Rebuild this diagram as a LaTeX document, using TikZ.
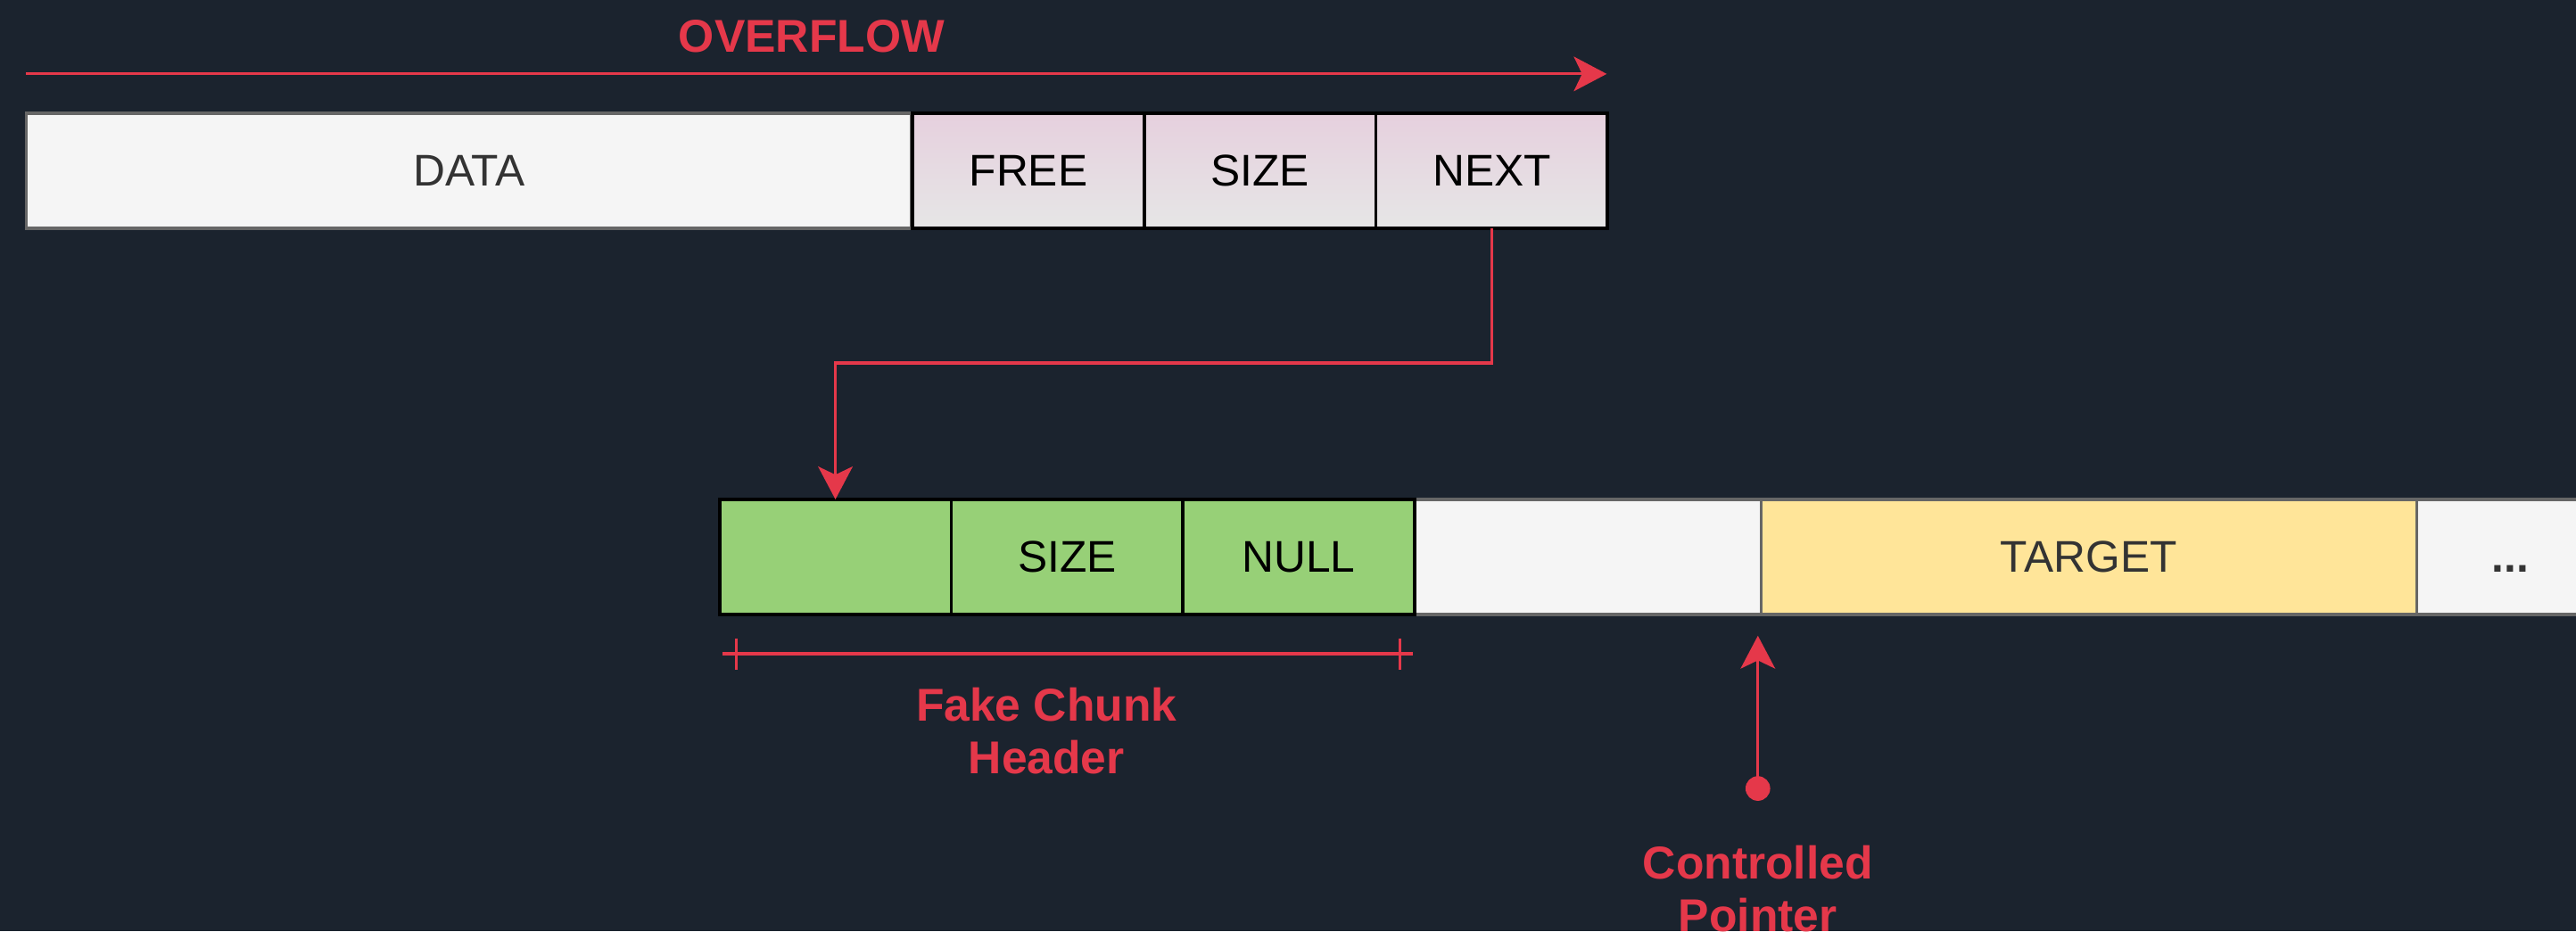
\documentclass[tikz,border=0pt]{standalone}
\usepackage{fontspec}
\setmainfont{Liberation Sans}
\usetikzlibrary{arrows.meta}

\definecolor{bg}{HTML}{1B232E}
\definecolor{accent}{HTML}{E5384A}
\definecolor{cellgray}{HTML}{F5F5F5}
\definecolor{edgegray}{HTML}{666666}
\definecolor{txtgray}{HTML}{333333}
\definecolor{pinktop}{HTML}{E6D0DE}
\definecolor{pinkbot}{HTML}{E6E6E6}
\definecolor{chunkgreen}{HTML}{97D077}
\definecolor{targetfill}{HTML}{FFE599}

\tikzset{
  txt/.style={font=\fontsize{13.5}{16.2}\selectfont},
  boldtxt/.style={font=\fontsize{14}{16.2}\selectfont\bfseries, text=accent},
  cell/.style={txt, line width=1pt, minimum height=35pt, inner sep=0pt, outer sep=0pt},
  plaincell/.style={cell, draw=edgegray, fill=cellgray, text=txtgray},
  metacell/.style={cell, draw=black, top color=pinktop, bottom color=pinkbot, text=black, minimum width=70.5pt},
  fakecell/.style={cell, draw=black, fill=chunkgreen, text=black, minimum width=70.5pt},
  redline/.style={draw=accent, line width=0.85pt},
  redarrow/.style={redline, -{Stealth[length=10pt, width=10.5pt, inset=2.5pt]}},
}

\begin{document}
\begin{tikzpicture}[x=0.5pt, y=-0.5pt]
  \clip (0,0) rectangle (1568,567);
  \fill[bg] (0,0) rectangle (1568,567);

  % overflowing chunk: user data followed by the header it overwrites
  \node[plaincell, minimum width=269.5pt] (data) at (285.5,104) {DATA};
  \node[metacell] (free) at (626,104) {FREE};
  \node[metacell] (size) at (767,104) {SIZE};
  \node[metacell] (next) at (908,104) {NEXT};

  % overflow direction
  \coordinate (ovstart) at (16,45);
  \coordinate (ovend) at (978,45);
  \draw[redarrow] (ovstart) -- (ovend);
  \node[boldtxt] (ovlabel) at (494,22) {OVERFLOW};

  % memory holding the fake chunk and the target
  \node[plaincell, minimum width=105.5pt] (gap) at (966.5,339) {};
  \node[plaincell, minimum width=199.5pt, fill=targetfill] (target) at (1271.5,339) {TARGET};
  \node[plaincell, minimum width=57pt, font=\fontsize{13.5}{16.2}\selectfont\bfseries] (more) at (1528,339) {\vphantom{A}...};
  \node[fakecell] (fake1) at (508.5,339) {};
  \node[fakecell] (fake2) at (649.5,339) {SIZE};
  \node[fakecell] (fake3) at (790.5,339) {NULL};

  % corrupted NEXT pointer now points at the fake chunk
  \draw[redarrow] (next.south) -- ++(0,82) -| (fake1.north);

  % extent of the fake chunk header
  \coordinate (dimL) at (440,398);
  \coordinate (dimR) at (860,398);
  \draw[redline] (dimL) -- (dimR);
  \draw[redline] (448,388.5) -- (448,407.5);
  \draw[redline] (852,388.5) -- (852,407.5);
  \node[boldtxt, align=center] (fakelabel) at (637,445) {Fake Chunk\\Header};

  % controlled pointer aimed just past the fake chunk
  \coordinate (cpbase) at (1070,480);
  \coordinate (cptip) at (1070,387);
  \fill[accent] (cpbase) circle[radius=3.75pt];
  \draw[redarrow] (cpbase) -- (cptip);
  \node[boldtxt, align=center] (cplabel) at (1070,541) {Controlled\\Pointer};
\end{tikzpicture}
\end{document}
